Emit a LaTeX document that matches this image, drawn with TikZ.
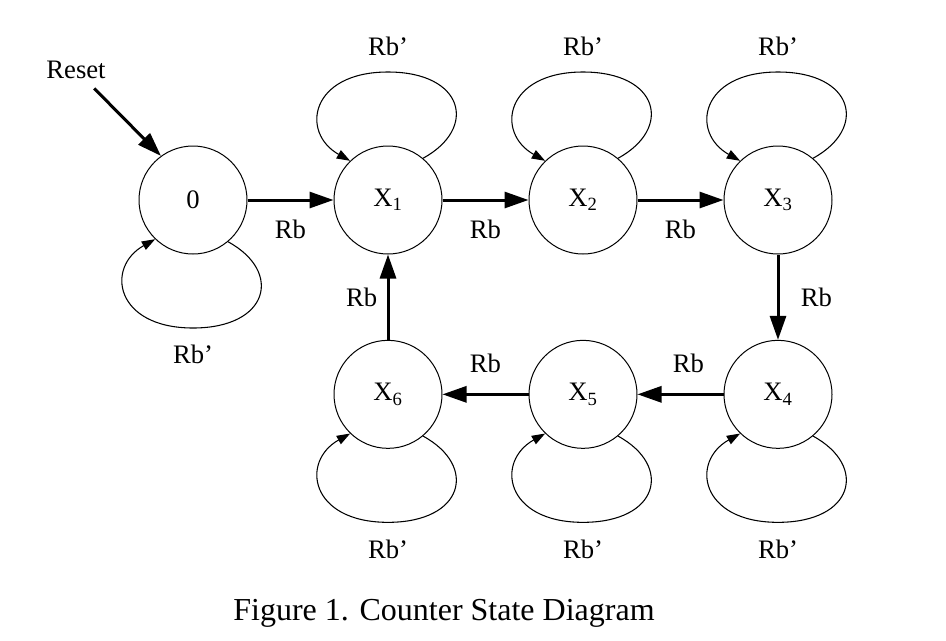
\documentclass[tikz,border=0pt]{standalone}
\usepackage{fontspec}
\setmainfont{Liberation Serif}
\usetikzlibrary{arrows.meta,calc,positioning}

\begin{document}
\begin{tikzpicture}[
    x=0.75pt,y=0.75pt,
    state/.style={draw,circle,line width=0.75pt,minimum size=81pt,inner sep=0pt,
      font=\fontsize{20}{24}\selectfont},
    lbl/.style={inner sep=0pt,font=\fontsize{20}{24}\selectfont},
    flow/.style={-{Triangle[length=18pt,width=12pt]},line width=2.25pt},
    selfloop/.style={-{Triangle[length=10pt,width=7pt]},line width=0.8pt},
    node distance=64.5pt
  ]
    \useasboundingbox (0,0) rectangle (946,-640);
    \node[state] (s0) at (193,-200) {0};
    \node[state,right=of s0] (x1) {X\textsubscript{1}};
    \node[state,right=of x1] (x2) {X\textsubscript{2}};
    \node[state,right=of x2] (x3) {X\textsubscript{3}};
    \node[state,below=64pt of x3] (x4) {X\textsubscript{4}};
    \node[state,left=of x4] (x5) {X\textsubscript{5}};
    \node[state,left=of x5] (x6) {X\textsubscript{6}};
    \node[lbl,inner sep=7pt] (reset) at (76,-70) {Reset};
    \node[font=\fontsize{24}{29}\selectfont] (caption) at (444,-613) {Figure 1. Counter State Diagram};
    \draw[flow] (reset) -- (s0.126);
    \draw[flow] (s0) -- node[lbl,below=14pt] {Rb} (x1);
    \draw[flow] (x1) -- node[lbl,below=14pt] {Rb} (x2);
    \draw[flow] (x2) -- node[lbl,below=14pt] {Rb} (x3);
    \draw[flow] (x3) -- node[lbl,right=16pt] {Rb} (x4);
    \draw[flow] (x4) -- node[lbl,above=15pt,xshift=6pt] {Rb} (x5);
    \draw[flow] (x5) -- node[lbl,above=15pt] {Rb} (x6);
    \draw[flow] (x6) -- node[lbl,left=7pt] {Rb} (x1);
    \foreach \n in {x1,x2,x3} {
      \draw[selfloop] (\n.50) .. controls +(55,30) and +(76,0) .. ($(\n)+(0,128)$)
        .. controls +(-78,0) and +(-50,28) .. (\n.134);
      \node[lbl,above=67pt of \n] {Rb’};
    }
    \foreach \n in {s0,x4,x5,x6} {
      \draw[selfloop] (\n.-50) .. controls +(55,-30) and +(76,0) .. ($(\n)+(0,-128)$)
        .. controls +(-78,0) and +(-50,-28) .. (\n.-134);
      \node[lbl,below=68pt of \n] {Rb’};
    }
  \end{tikzpicture}
\end{document}
